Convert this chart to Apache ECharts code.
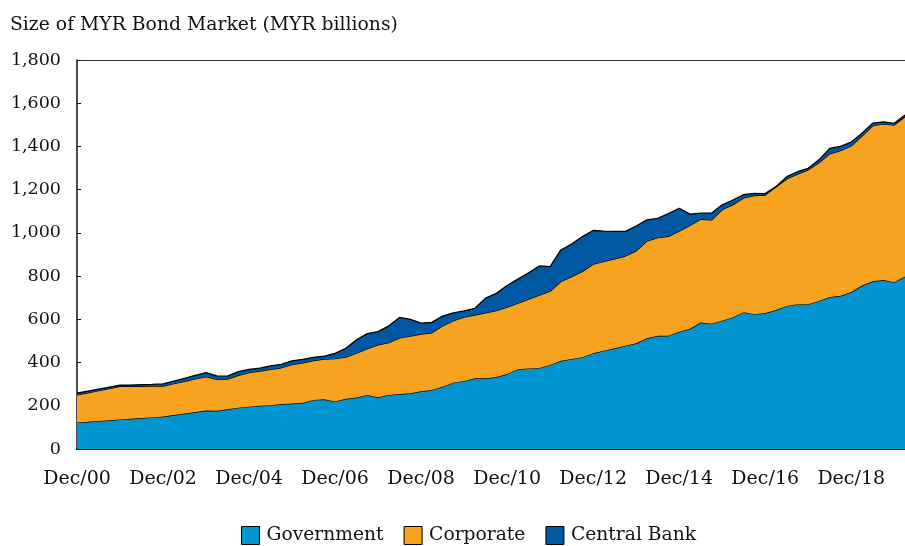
<!DOCTYPE html>
<html>
<head>
<meta charset="utf-8">
<script src="https://cdn.jsdelivr.net/npm/echarts@6/dist/echarts.min.js"></script>
<style>html,body{margin:0;padding:0;background:#fff;}#c{width:905px;height:546px;}</style>
</head>
<body>
<div id="c"></div>
<script>
// Quarterly categories, Dec/00 .. Mar/20
var categories = [
 'Dec/00','Mar/01','Jun/01','Sep/01','Dec/01','Mar/02','Jun/02','Sep/02','Dec/02',
 'Mar/03','Jun/03','Sep/03','Dec/03','Mar/04','Jun/04','Sep/04','Dec/04',
 'Mar/05','Jun/05','Sep/05','Dec/05','Mar/06','Jun/06','Sep/06','Dec/06',
 'Mar/07','Jun/07','Sep/07','Dec/07','Mar/08','Jun/08','Sep/08','Dec/08',
 'Mar/09','Jun/09','Sep/09','Dec/09','Mar/10','Jun/10','Sep/10','Dec/10',
 'Mar/11','Jun/11','Sep/11','Dec/11','Mar/12','Jun/12','Sep/12','Dec/12',
 'Mar/13','Jun/13','Sep/13','Dec/13','Mar/14','Jun/14','Sep/14','Dec/14',
 'Mar/15','Jun/15','Sep/15','Dec/15','Mar/16','Jun/16','Sep/16','Dec/16',
 'Mar/17','Jun/17','Sep/17','Dec/17','Mar/18','Jun/18','Sep/18','Dec/18',
 'Mar/19','Jun/19','Sep/19','Dec/19','Mar/20'
];
var tickLabels = ['Dec/00','Dec/02','Dec/04','Dec/06','Dec/08','Dec/10','Dec/12','Dec/14','Dec/16','Dec/18'];
var yTicks = [0,200,400,600,800,1000,1200,1400,1600,1800];

var government = [123,126,130,133,137,140,143,146,150,157,164,171,178,177,184,191,196,200,203,208,
 210,214,227,230,220,232,238,250,239,250,254,258,267,273,288,307,315,327,327,333,
 347,369,373,375,389,408,417,425,443,455,466,478,489,512,524,524,543,556,585,580,
 594,610,633,624,629,643,662,670,670,685,703,709,726,756,776,782,772,798];
var corporate = [127,134,140,147,153,150,147,145,141,145,149,153,157,145,139,150,157,161,165,168,
 180,185,182,186,198,193,205,214,243,242,260,264,265,265,281,287,295,293,303,307,
 309,306,321,337,341,367,381,397,412,413,414,415,428,450,454,460,465,478,478,480,
 513,521,529,549,546,569,588,602,622,640,663,672,676,692,720,722,727,740];
var centralBank = [8,8,7,6,5,6,8,8,10,12,14,17,18,16,14,17,15,13,17,16,
 18,16,15,14,25,41,62,70,61,78,95,78,50,48,46,36,29,31,68,80,
 100,111,121,135,114,146,150,161,156,140,127,114,115,98,89,105,106,53,28,31,
 23,21,15,10,7,2,10,11,7,13,25,19,18,13,12,10,8,7];

var seriesNames = ['Government','Corporate','Central Bank'];
var seriesColors = ['#0094D1','#F8A31F','#0058A3'];
var seriesData = [government, corporate, centralBank];

var FONT = 'DejaVu Serif';
var isTick = function(i){return tickLabels.indexOf(categories[i]) >= 0;};
var chart = echarts.init(document.getElementById('c'), null, {renderer:'canvas'});
var option = {
  animation: false,
  backgroundColor: '#fff',
  title: {
    text: 'Size of MYR Bond Market (MYR billions)',
    left: 5, top: 11,
    textStyle: {fontFamily: FONT, fontSize: 18.8, fontWeight: 'normal', color: '#111'}
  },
  grid: {left: 77, right: 0, top: 60, bottom: 97, containLabel: false},
  legend: {
    data: seriesNames,
    left: 236, top: 521,
    icon: 'rect', itemWidth: 18, itemHeight: 18, itemGap: 20,
    itemStyle: {borderColor: '#000', borderWidth: 1},
    textStyle: {fontFamily: FONT, fontSize: 18.7, color: '#111', padding: [0,0,0,2]}
  },
  xAxis: [{
    type: 'category', data: categories, boundaryGap: false,
    axisLine: {show: true, lineStyle: {color: '#111', width: 2}},
    axisTick: {show: true, inside: true, length: 5, interval: isTick, lineStyle: {color: '#111', width: 1}},
    axisLabel: {interval: isTick, margin: 21, fontFamily: FONT, fontSize: 19, color: '#111'},
    splitLine: {show: false}
  }, {
    type: 'category', data: categories, boundaryGap: false, position: 'top',
    axisLine: {show: true, lineStyle: {color: '#333', width: 1}},
    axisTick: {show: false}, axisLabel: {show: false}, splitLine: {show: false}
  }],
  yAxis: {
    type: 'value', min: yTicks[0], max: yTicks[yTicks.length-1], interval: 200,
    axisLine: {show: true, lineStyle: {color: '#111', width: 1.5}},
    axisTick: {show: true, inside: true, length: 4, lineStyle: {color: '#111'}},
    axisLabel: {
      margin: 16, fontFamily: FONT, fontSize: 17.5, color: '#111',
      formatter: function(v){return v.toString().replace(/\B(?=(\d{3})+(?!\d))/g, ',');}
    },
    splitLine: {show: false}
  },
  series: seriesNames.map(function(name, i){
    return {
      name: name, type: 'line', stack: 'total', data: seriesData[i],
      symbol: 'none', smooth: false,
      itemStyle: {color: seriesColors[i]},
      lineStyle: {color: '#000', width: 1.3},
      areaStyle: {color: seriesColors[i], opacity: 1},
      z: 2 + i
    };
  })
};
chart.setOption(option);
</script>
</body>
</html>
